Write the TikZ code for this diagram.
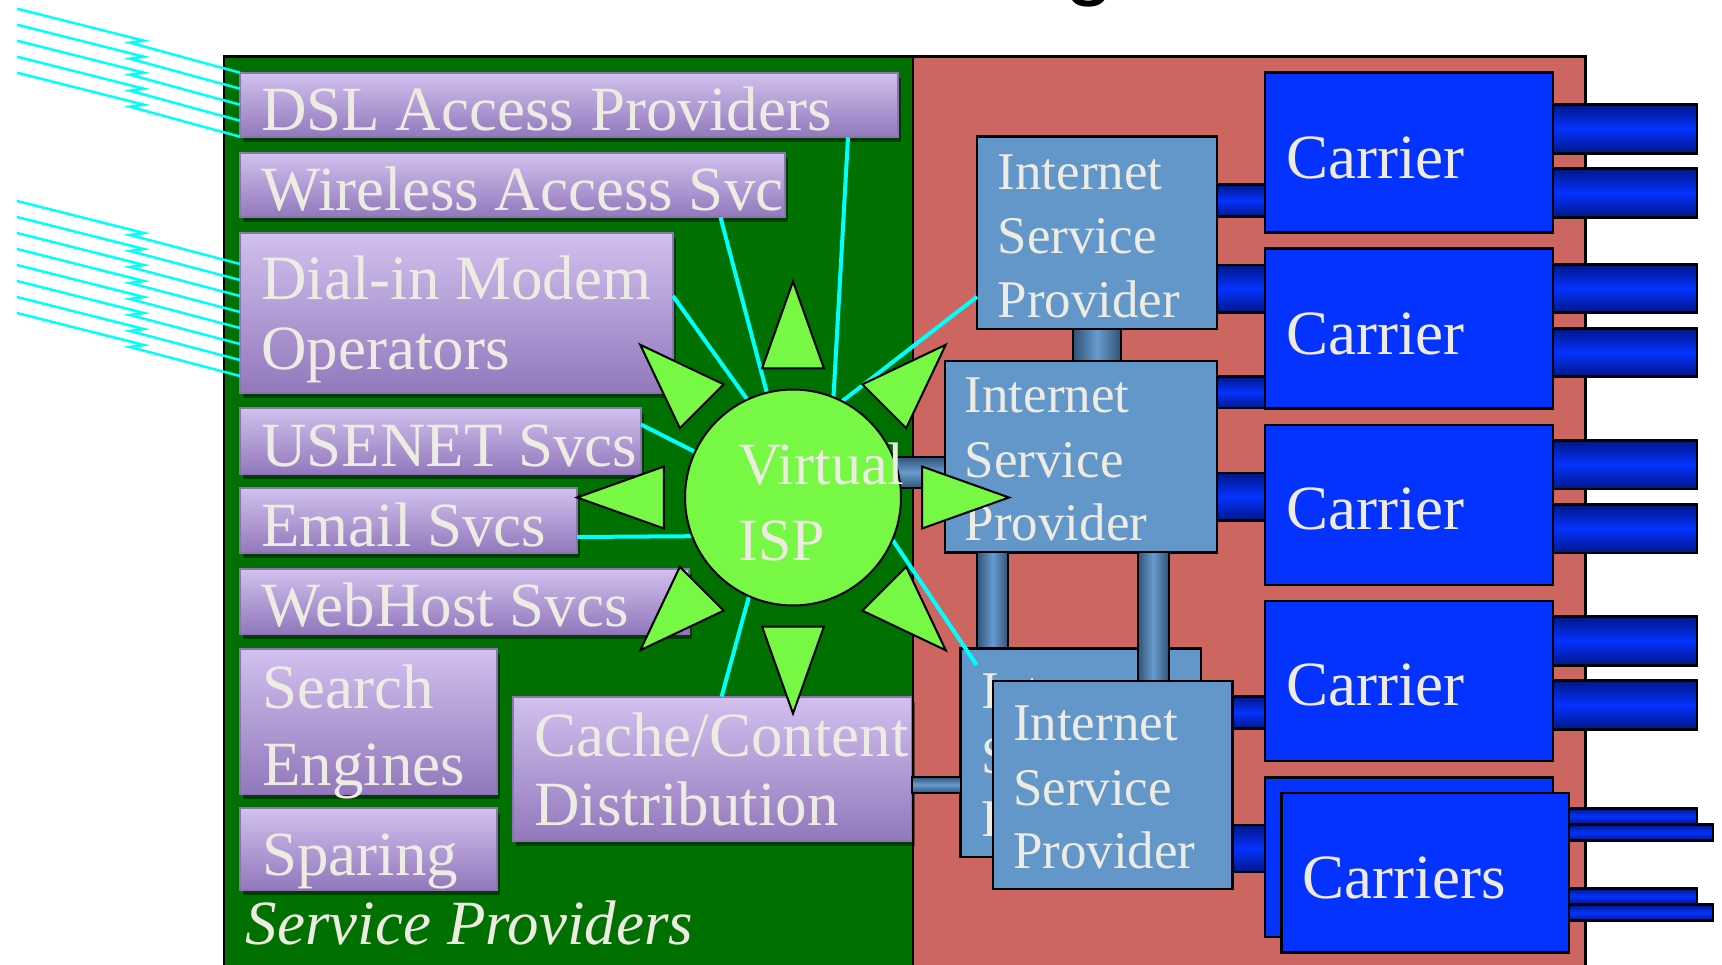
\documentclass[tikz,border=0pt]{standalone}
\usepackage{fontspec}
\setmainfont{Liberation Serif}
\newfontfamily\titlefont{Liberation Sans}
\usetikzlibrary{shadows}
\definecolor{spgreen}{RGB}{0,112,0}
\definecolor{carred}{RGB}{205,102,96}
\definecolor{ptop}{RGB}{210,192,238}
\definecolor{pbot}{RGB}{146,120,188}
\definecolor{pedge}{RGB}{140,115,180}
\definecolor{sungreen}{RGB}{118,248,68}
\definecolor{ispblue}{RGB}{99,150,201}
\definecolor{carblue}{RGB}{4,51,255}
\definecolor{navy}{RGB}{0,22,135}
\definecolor{steeldark}{RGB}{48,82,118}
\definecolor{steellight}{RGB}{104,155,206}
\definecolor{offwhite}{RGB}{238,235,226}
\definecolor{wire}{RGB}{0,255,255}
\newcommand\mybox[6]{\node[#1, anchor=north west, inner sep=0pt, outer sep=0pt,
  minimum width={(#5-#3)*1pt}, minimum height={(#6-#4)*1pt}] (#2) at (#3,#4) {};}
\tikzset{
  region/.style={draw=none},
  pbox/.style={draw=pedge, line width=2pt, top color=ptop, bottom color=pbot,
    drop shadow={shadow xshift=3pt, shadow yshift=-5pt, opacity=0.45, fill=black}},
  ispbox/.style={draw=black, line width=2.5pt, fill=ispblue},
  carbox/.style={draw=black, line width=2.5pt, fill=carblue},
  navybar/.style={draw=black, line width=2.5pt, top color=navy, bottom color=navy, middle color=carblue},
  vsteel/.style={draw=black, line width=2pt, left color=steeldark, right color=steeldark, middle color=steellight},
  hsteel/.style={draw=black, line width=2pt, top color=steeldark, bottom color=steeldark, middle color=steellight},
  lbl/.style={text=offwhite, inner sep=0pt, anchor=base west, font=\fontsize{63}{70}\selectfont},
  isplbl/.style={text=offwhite, inner sep=0pt, anchor=base west, font=\fontsize{53}{60}\selectfont},
  vilbl/.style={text=offwhite, inner sep=0pt, anchor=base west, font=\fontsize{60}{66}\selectfont},
  wire/.style={draw=wire, line width=4pt},
  wirethin/.style={draw=wire, line width=2.5pt, line join=miter},
  spike/.style={draw=black, line width=2pt, fill=sungreen, line join=miter},
}
\begin{document}
\begin{tikzpicture}[x=1pt,y=-1pt]
\useasboundingbox (0,0) rectangle (1722,965);
\node[anchor=base west, inner sep=0pt, font=\titlefont\fontsize{90}{90}\selectfont] (ttl) at (1064,-11.6) {g};
% regions
\mybox{region, fill=spgreen}{sp}{224}{56.7}{913}{980}
\mybox{region, fill=carred}{cr}{913}{56.7}{1585.7}{980}
% service provider boxes
\mybox{pbox}{dsl}{240}{72.7}{898}{137.3}
\mybox{pbox}{wls}{240}{152.7}{785}{217.3}
\mybox{pbox}{dial}{240}{232.7}{673}{393.3}
\mybox{pbox}{usenet}{240}{408}{641}{474}
\mybox{pbox}{email}{240}{488.3}{577}{553.2}
\mybox{pbox}{web}{240}{568.6}{689}{633.5}
\mybox{pbox}{search}{240}{648.6}{497}{793.5}
\mybox{pbox}{sparing}{240}{808.3}{497}{890}
\mybox{pbox}{cache}{512.6}{696.6}{912}{841.4}
\node[lbl] (dslT) at (261,130.7) {DSL Access Providers};
\node[lbl] (wlsT) at (261,210.7) {Wireless Access Svc};
\node[lbl] (dialT1) at (261,300) {Dial-in Modem};
\node[lbl] (dialT2) at (261,370) {Operators};
\node[lbl] (usenetT) at (261,466.7) {USENET Svcs};
\node[lbl] (emailT) at (261,546) {Email Svcs};
\node[lbl] (webT) at (261,626.3) {WebHost Svcs};
\node[lbl] (searchT1) at (262,708) {Search};
\node[lbl] (searchT2) at (262,785.6) {Engines};
\node[lbl] (sparingT) at (262,875) {Sparing};
\node[lbl] (cacheT1) at (534,756.8) {Cache/Content};
\node[lbl] (cacheT2) at (534,825) {Distribution};
\node[lbl, font=\fontsize{63}{70}\selectfont\itshape] (spT) at (245.7,944) {Service Providers};
% outer border
\draw[line width=2.5pt] (sp.south west) -- (sp.north west) -- (cr.north east) -- (cr.south east);
\draw[line width=2.5pt] (cr.north west) -- (cr.south west);
% incoming access lines
\foreach \k in {0,...,4}
  \draw[wirethin] (17,8.7+16*\k) -- ++(127,32) -- ++(-14,2) -- ([yshift={-16*\k*1pt}]dsl.north west);
\foreach \k in {0,...,7}
  \draw[wirethin] (17,201+16*\k) -- ++(127,32) -- ++(-14,2) -- ([yshift={-(31.3+16*\k)*1pt}]dial.north west);
% ISPs
\mybox{ispbox}{isp1}{977}{136.7}{1217}{329}
\mybox{ispbox}{isp2}{945}{361}{1217}{552.4}
\mybox{vsteel}{b12}{1073}{329}{1121}{361}
\mybox{vsteel}{b23}{977}{552.4}{1008.4}{648.6}
\node[isplbl] (isp1T1) at (997.4,190) {Internet};
\node[isplbl] (isp1T2) at (997.4,254) {Service};
\node[isplbl] (isp1T3) at (997.4,317.3) {Provider};
\node[isplbl] (isp2T1) at (964.5,413) {Internet};
\node[isplbl] (isp2T2) at (964.5,477.5) {Service};
\node[isplbl] (isp2T3) at (964.5,540.5) {Provider};
\mybox{ispbox}{isp3}{960.6}{648.6}{1201}{857}
\node[isplbl] (isp3T1) at (981,708) {Internet};
\node[isplbl] (isp3T2) at (981,773) {Service};
\node[isplbl] (isp3T3) at (981,836) {Provider};
\mybox{vsteel}{b24}{1137.6}{552.4}{1169}{681}
\mybox{ispbox}{isp4}{993}{681}{1232.7}{889}
\node[isplbl] (isp4T1) at (1012.8,740.5) {Internet};
\node[isplbl] (isp4T2) at (1012.8,805.4) {Service};
\node[isplbl] (isp4T3) at (1012.8,868.5) {Provider};
\mybox{hsteel}{bc3}{912}{776.6}{960.6}{792.8}
% ISP to carrier links
\mybox{navybar}{l11}{1217}{184.3}{1265}{216.7}
\mybox{navybar}{l12}{1217}{265}{1265}{312.3}
\mybox{navybar}{l22}{1217}{376.7}{1265}{408}
\mybox{navybar}{l23}{1217}{472.8}{1265}{520.7}
\mybox{navybar}{l44}{1232.7}{696.6}{1265}{728.6}
\mybox{navybar}{l45}{1232.7}{825.2}{1265}{872}
% carriers
\mybox{carbox}{c1}{1265}{72.7}{1553}{232.7}
\mybox{carbox}{c2}{1265}{248.7}{1553}{408.3}
\mybox{carbox}{c3}{1265}{425.2}{1553}{584.9}
\mybox{carbox}{c4}{1265}{601}{1553}{761}
\mybox{navybar}{o11}{1553}{104.3}{1697}{153.3}
\mybox{navybar}{o12}{1553}{168.7}{1697}{217.3}
\mybox{navybar}{o21}{1553}{264.3}{1697}{312.7}
\mybox{navybar}{o22}{1553}{328.3}{1697}{376.7}
\mybox{navybar}{o31}{1553}{440.7}{1697}{489}
\mybox{navybar}{o32}{1553}{504.5}{1697}{553.2}
\mybox{navybar}{o41}{1553}{616.6}{1697}{665.6}
\mybox{navybar}{o42}{1553}{680.7}{1697}{729.4}
\mybox{navybar}{o51}{1553}{808.3}{1697}{824.5}
\mybox{navybar}{o53}{1553}{888.3}{1697}{904.5}
\mybox{carbox}{c5b}{1265}{777.3}{1553}{937}
\mybox{carbox}{c5}{1281.7}{792.8}{1569}{952.4}
\mybox{navybar}{o52}{1569}{824.5}{1713}{840.4}
\mybox{navybar}{o54}{1569}{904.5}{1713}{920.7}
\node[lbl] (c1T) at (1286,178.3) {Carrier};
\node[lbl] (c2T) at (1286,354.3) {Carrier};
\node[lbl] (c3T) at (1286,529.7) {Carrier};
\node[lbl] (c4T) at (1286,705.6) {Carrier};
\node[lbl] (c5T) at (1302.5,898.4) {Carriers};
% virtual ISP
\coordinate (c) at (793,497.5);
\node[circle, inner sep=0pt, outer sep=0pt, minimum size=216pt] (vi) at (c) {};
\draw[wire] ([xshift=608pt]dsl.south west) -- (vi.68.8);
\draw[wire] ([xshift=480.5pt]wls.south west) -- (vi.104.3);
\draw[wire] ([yshift=-63.3pt]dial.north east) -- (vi.115.3);
\draw[wire] ([yshift=-16.5pt]usenet.north east) -- (vi.155.4);
\draw[wire] ([yshift=-48.7pt]email.north east) -- (vi.201.3);
\draw[wire] ([xshift=209pt]cache.north west) -- (vi.246.6);
\draw[wire] (vi.63.3) -- ([yshift=-63.9pt]isp1.west);
\draw[wire] (vi.337.9) -- ([xshift=16pt,yshift=-16.4pt]isp3.north west);
\mybox{hsteel}{bv2}{880}{456.7}{945}{488.3}
\foreach \a in {0,45,...,315}
  \draw[spike] ([shift={(\a:216pt)}]c) -- ([shift={(\a+13.51:132.7pt)}]c) -- ([shift={(\a-13.51:132.7pt)}]c) -- cycle;
\node[circle, draw=black, line width=2pt, fill=sungreen, inner sep=0pt, outer sep=0pt, minimum size=216pt] (sun) at (c) {};
\node[vilbl] (viT1) at (738,484) {Virtual};
\node[vilbl] (viT2) at (738,560.7) {ISP};
\end{tikzpicture}
\end{document}
